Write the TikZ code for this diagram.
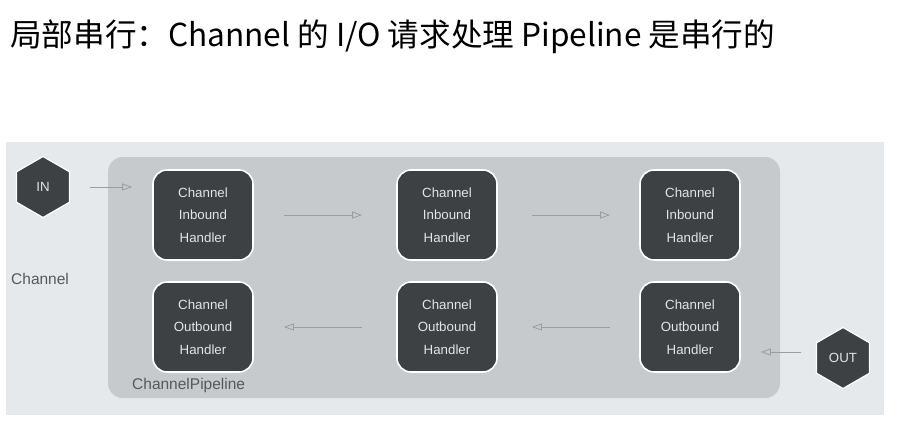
\documentclass[tikz,border=0pt]{standalone}
\usepackage{fontspec}
\setmainfont{Liberation Sans}
\newfontfamily\cjkfont{Noto Sans CJK SC}
\usetikzlibrary{arrows.meta,shapes.geometric,positioning}
\definecolor{panelgray}{HTML}{E6E9EB}
\definecolor{pipegray}{HTML}{C6CACC}
\definecolor{boxdark}{HTML}{3D4144}
\definecolor{boxtext}{HTML}{E2E4E5}
\definecolor{linegray}{HTML}{9A9EA0}
\definecolor{labelgray}{HTML}{55595C}
\tikzset{
  handler/.style={draw=white, line width=1.6pt, fill=boxdark, rounded corners=14pt,
    minimum width=100pt, minimum height=90pt, inner sep=0pt, align=center,
    text=boxtext, font=\fontsize{13.3}{22.5}\selectfont},
  port/.style={regular polygon, regular polygon sides=6, shape border rotate=30,
    draw=white, line width=1.2pt, fill=boxdark, minimum size=61pt, inner sep=0pt,
    text=boxtext, font=\fontsize{13.3}{15}\selectfont},
  flow/.style={draw=linegray, line width=0.8pt, -{Triangle[open,length=10pt,width=7pt]}},
  caption/.style={anchor=west, inner sep=0pt, text=labelgray, font=\fontsize{15.5}{18}\selectfont}
}

\begin{document}
\begin{tikzpicture}[x=1pt, y=-1pt]
\useasboundingbox (0,0) rectangle (918,436);
\fill[white] (0,0) rectangle (918,436);

% title
\node[anchor=west, inner sep=0pt] (title) at (10,37)
  {\cjkfont\fontsize{31.6}{36}\selectfont 局部串行：Channel 的 I/O 请求处理 Pipeline 是串行的};

% background panels
\fill[panelgray] (6,142) rectangle (884,415);
\fill[pipegray, rounded corners=15pt] (108,157) rectangle (780,398);

% handlers
\node[handler] (ib1) at (203,215) {Channel\\Inbound\\Handler};
\node[handler] (ib2) at (447,215) {Channel\\Inbound\\Handler};
\node[handler] (ib3) at (690,215) {Channel\\Inbound\\Handler};
\node[handler] (ob1) at (203,327) {Channel\\Outbound\\Handler};
\node[handler] (ob2) at (447,327) {Channel\\Outbound\\Handler};
\node[handler] (ob3) at (690,327) {Channel\\Outbound\\Handler};

% in / out
\node[port] (in) at (43,187) {IN};
\node[port] (out) at (843,358) {OUT};

% labels
\node[caption] (chlabel) at (11,279) {Channel};
\node[caption] (pipelabel) at (132,385) {ChannelPipeline};

% arrows
\draw[flow, shorten <=20pt, shorten >=20pt] (in.east) -- (in.east -| ib1.west);
\draw[flow, shorten <=30pt, shorten >=34pt] (ib1) -- (ib2);
\draw[flow, shorten <=34pt, shorten >=29pt] (ib2) -- (ib3);
\draw[flow, shorten <=29pt, shorten >=34pt] (ob3) -- (ob2);
\draw[flow, shorten <=34pt, shorten >=30pt] (ob2) -- (ob1);
\draw[flow, shorten <=15pt, shorten >=20pt] ([yshift=6pt]out.west) -- ([yshift=6pt]out.west -| ob3.east);
\end{tikzpicture}
\end{document}
